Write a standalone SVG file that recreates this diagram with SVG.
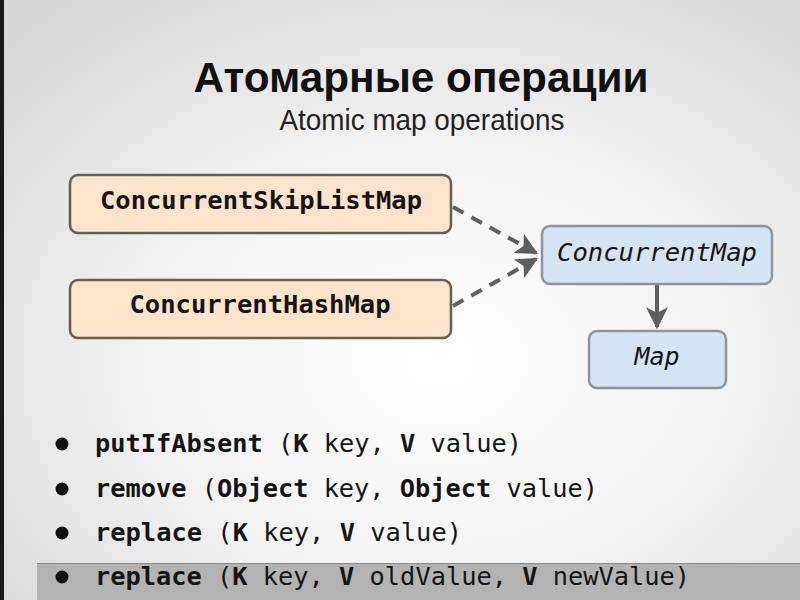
<svg xmlns="http://www.w3.org/2000/svg" width="800" height="600" viewBox="0 0 800 600">
<defs>
<radialGradient id="bg" cx="0.55" cy="0.6" r="0.75">
<stop offset="0" stop-color="#ffffff"/>
<stop offset="0.5" stop-color="#f2f2f2"/>
<stop offset="1" stop-color="#d6d6d6"/>
</radialGradient>
<marker id="ah" viewBox="0 0 10 10" refX="9" refY="5" markerWidth="5.5" markerHeight="5.5" orient="auto" markerUnits="strokeWidth">
<path d="M0,0 L10,5 L0,10 L2.5,5 z" fill="#5f5f5f"/>
</marker>
<style>
.title{font-family:"Liberation Sans",Arial,sans-serif;font-weight:bold;fill:#111}
.sub{font-family:"Liberation Sans",Arial,sans-serif;fill:#222}
.mono{font-family:"DejaVu Sans Mono","Liberation Mono",monospace;fill:#151515}
.b{font-weight:bold}
.impl rect{fill:#fce3cb;stroke:#675f55;stroke-width:2.5}
.intf rect{fill:#d4e4f3;stroke:#8b959e;stroke-width:2.5}
.intf text{font-style:italic}
.conn line{stroke:#5f5f5f;stroke-width:4}
.dash{stroke-dasharray:12 9}
</style>
</defs>
<rect width="800" height="600" fill="url(#bg)"/>
<rect x="0" y="0" width="4" height="600" fill="#1a1a1a"/>

<text class="title" x="421" y="92" font-size="43" text-anchor="middle" textLength="455" lengthAdjust="spacingAndGlyphs">Атомарные операции</text>
<text class="sub" x="422" y="130" font-size="29" text-anchor="middle" textLength="285" lengthAdjust="spacingAndGlyphs">Atomic map operations</text>

<g class="conn">
<line class="dash" x1="453" y1="207" x2="536" y2="253" marker-end="url(#ah)"/>
<line class="dash" x1="453" y1="306" x2="536" y2="259" marker-end="url(#ah)"/>
<line x1="657" y1="285" x2="657" y2="327" marker-end="url(#ah)"/>
</g>

<g id="skiplist" class="impl">
<rect x="70" y="175" width="381" height="58" rx="8"/>
<text class="mono b" x="261" y="209" font-size="25" text-anchor="middle" textLength="322" lengthAdjust="spacingAndGlyphs">ConcurrentSkipListMap</text>
</g>
<g id="hashmap" class="impl">
<rect x="70" y="280" width="381" height="58" rx="8"/>
<text class="mono b" x="260" y="313" font-size="25" text-anchor="middle" textLength="261" lengthAdjust="spacingAndGlyphs">ConcurrentHashMap</text>
</g>
<g id="concurrentmap" class="intf">
<rect x="542" y="226" width="230" height="58" rx="8"/>
<text class="mono" x="657" y="261" font-size="25" text-anchor="middle" textLength="200" lengthAdjust="spacingAndGlyphs">ConcurrentMap</text>
</g>
<g id="map" class="intf">
<rect x="589" y="331" width="137" height="57" rx="8"/>
<text class="mono" x="657" y="365" font-size="25" text-anchor="middle">Map</text>
</g>

<rect x="37" y="563" width="763" height="37" fill="#b3b3b3"/>
<line x1="37" y1="563.5" x2="800" y2="563.5" stroke="#8a8a8a" stroke-width="1"/>

<g id="bullets" font-size="25.5">
<circle cx="62" cy="444" r="6.5" fill="#111"/>
<text class="mono" x="95" y="452" textLength="427" lengthAdjust="spacingAndGlyphs"><tspan class="b">putIfAbsent</tspan> (<tspan class="b">K</tspan> key, <tspan class="b">V</tspan> value)</text>
<circle cx="62" cy="489" r="6.5" fill="#111"/>
<text class="mono" x="95" y="497" textLength="503" lengthAdjust="spacingAndGlyphs"><tspan class="b">remove</tspan> (<tspan class="b">Object</tspan> key, <tspan class="b">Object</tspan> value)</text>
<circle cx="62" cy="533" r="6.5" fill="#111"/>
<text class="mono" x="95" y="541" textLength="367" lengthAdjust="spacingAndGlyphs"><tspan class="b">replace</tspan> (<tspan class="b">K</tspan> key, <tspan class="b">V</tspan> value)</text>
<circle cx="62" cy="577" r="6.5" fill="#111"/>
<text class="mono" x="95" y="585" textLength="595" lengthAdjust="spacingAndGlyphs"><tspan class="b">replace</tspan> (<tspan class="b">K</tspan> key, <tspan class="b">V</tspan> oldValue, <tspan class="b">V</tspan> newValue)</text>
</g>
</svg>
